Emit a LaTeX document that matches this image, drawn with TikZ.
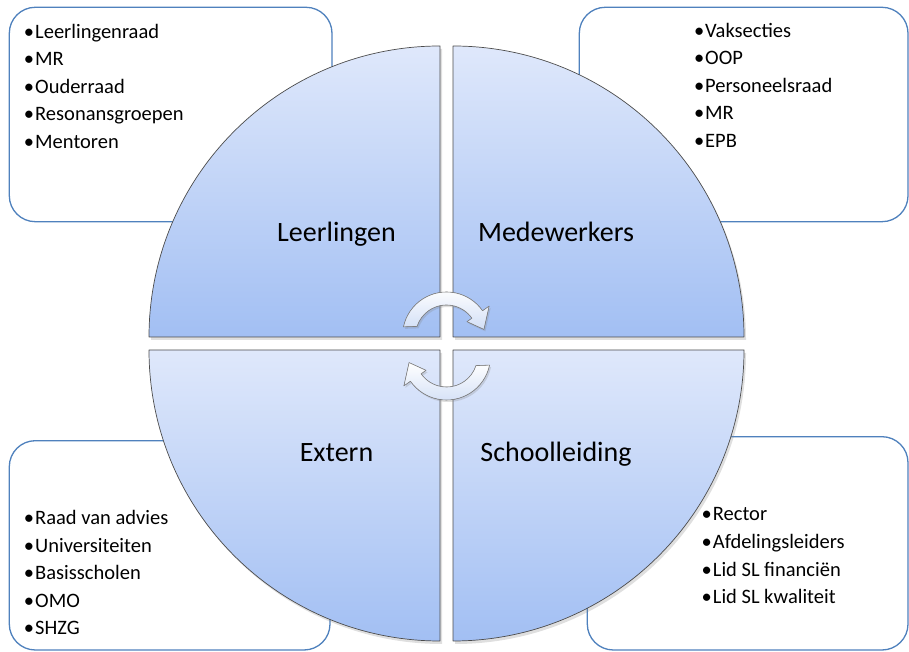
\documentclass[tikz,border=0pt]{standalone}
\usepackage{fontspec}
\setmainfont{Carlito}
\usepackage{tikz}
\usetikzlibrary{shadows}
\definecolor{boxBlue}{RGB}{79,129,189}
\definecolor{quadLight}{RGB}{223,232,251}
\definecolor{quadDark}{RGB}{162,191,243}
\definecolor{arrowFill}{RGB}{210,223,246}
\newcommand{\CycleArrow}[2][0]{
	\def\arot{#1}
	\def\apin{#2}
	\begin{scope}[shift={(\apin)}, rotate=\arot]
		\filldraw[arrowpart] (168:44) arc[start angle=168, end angle=35, radius=44] -- (35:52) -- (10:38) -- (35:25) -- (35:31) arc[start angle=35, end angle=162, radius=31] -- cycle;
	\end{scope}
}
\tikzset{
	infobox/.style={draw=boxBlue, line width=1.3pt, rounded corners=26pt, fill=white},
	quadrant/.style={draw=black!70, line width=0.7pt, top color=quadLight, bottom color=quadDark, drop shadow={opacity=0.25, shadow xshift=2pt, shadow yshift=-3pt}},
	arrowpart/.style={draw=black!50, line width=0.6pt, top color=white, bottom color=arrowFill, drop shadow={opacity=0.25, shadow xshift=1.5pt, shadow yshift=-2pt}},
	quadtext/.style={anchor=base, inner sep=0pt, font=\fontsize{28}{34}\selectfont},
	listitem/.style={anchor=base west, inner sep=0pt, font=\fontsize{20.5}{25}\selectfont, execute at begin node={\llap{•\hspace{1pt}}}}
}

\begin{document}
\begin{tikzpicture}[x=1pt, y=1pt, line join=round]

	\useasboundingbox (0,0) rectangle (909,652);

	% boxes behind the circle
	\draw[infobox] (9.3,430.3) rectangle (332,644.7);
	\draw[infobox] (579.3,430.3) rectangle (908,644.7);
	\draw[infobox] (9.3,2) rectangle (330,211.3);
	\draw[infobox] (587.3,2) rectangle (908,215.3);

	\coordinate (TL) at (440,315);
	\coordinate (TR) at (453,315);
	\coordinate (BL) at (440,302);
	\coordinate (BR) at (453,302);

	\draw[quadrant] (TL) -- ++(-291,0) arc[start angle=180, end angle=90, radius=291] -- cycle;
	\draw[quadrant] (TR) -- ++(0,291) arc[start angle=90, end angle=0, radius=291] -- cycle;
	\draw[quadrant] (BL) -- ++(0,-291) arc[start angle=270, end angle=180, radius=291] -- cycle;
	\draw[quadrant] (BR) -- ++(291,0) arc[start angle=0, end angle=-90, radius=291] -- cycle;

	\node[quadtext] (leerlingen) at (336.5,410.3) {Leerlingen};
	\node[quadtext] (medewerkers) at (556,410.3) {Medewerkers};
	\node[quadtext] (extern) at (336.5,190.3) {Extern};
	\node[quadtext] (schoolleiding) at (556,190.3) {Schoolleiding};

	% lists
	\foreach \txt [count=\i] in {Leerlingenraad, MR, Ouderraad, Resonansgroepen, Mentoren}
		\node[listitem] (ll\i) at (35,{613.7-27.5*(\i-1)}) {\txt};
	\foreach \txt [count=\i] in {Vaksecties, OOP, Personeelsraad, MR, EPB}
		\node[listitem] (mw\i) at (705,{614.7-27.5*(\i-1)}) {\txt};
	\foreach \txt [count=\i] in {Raad van advies, Universiteiten, Basisscholen, OMO, SHZG}
		\node[listitem] (ex\i) at (35,{127-27.4*(\i-1)}) {\txt};
	\foreach \txt [count=\i] in {Rector, Afdelingsleiders, Lid SL financiën, Lid SL kwaliteit}
		\node[listitem] (sl\i) at (712.7,{131.3-27.7*(\i-1)}) {\txt};

	\coordinate (C1) at (446.5,316);
	\coordinate (C2) at (446.5,296);
	\CycleArrow{C1}
	\CycleArrow[180]{C2}

\end{tikzpicture}
\end{document}
